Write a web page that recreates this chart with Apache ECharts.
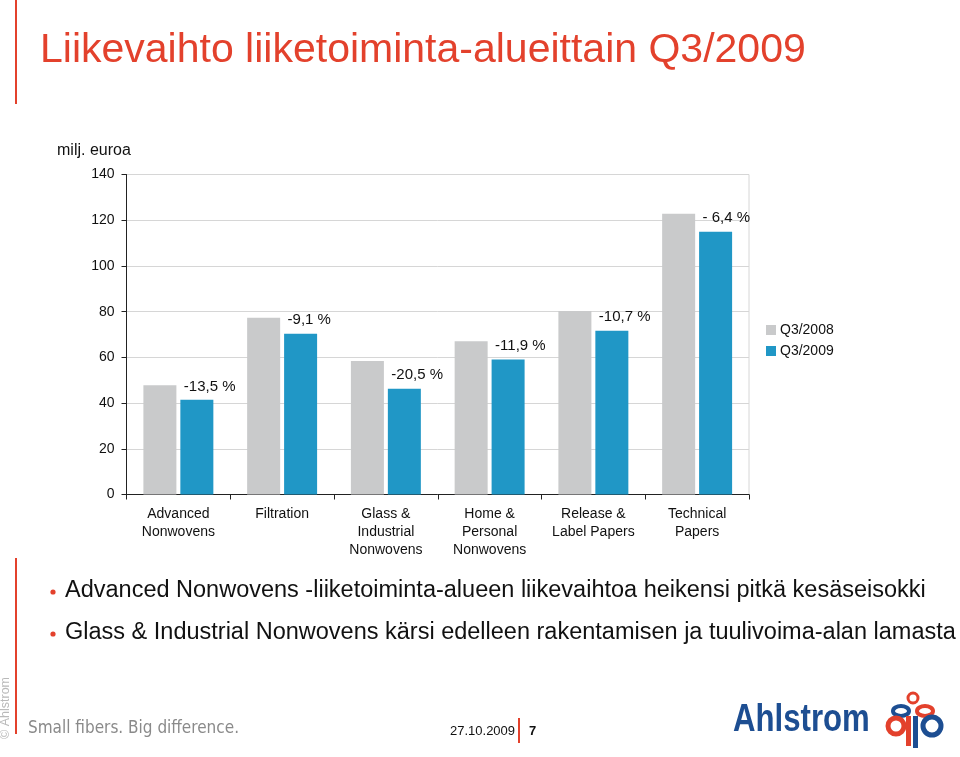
<!DOCTYPE html>
<html>
<head>
<meta charset="utf-8">
<script src="https://cdn.jsdelivr.net/npm/echarts@6/dist/echarts.min.js"></script>
<style>
html,body{margin:0;padding:0;background:#fff;}
#chart{width:960px;height:757px;}
</style>
</head>
<body>
<div id="chart"></div>
<script>
const categories = ['Advanced\nNonwovens', 'Filtration', 'Glass &\nIndustrial\nNonwovens', 'Home &\nPersonal\nNonwovens', 'Release &\nLabel Papers', 'Technical\nPapers'];
const q3_2008 = [47.8, 77.3, 58.4, 67.1, 80.3, 122.8];
const q3_2009 = [41.4, 70.3, 46.3, 59.1, 71.6, 115.0];
const changeLabels = ['-13,5 %', '-9,1 %', '-20,5 %', '-11,9 %', '-10,7 %', '- 6,4 %'];
const yTicks = [0, 20, 40, 60, 80, 100, 120, 140];
const seriesNames = ['Q3/2008', 'Q3/2009'];
const titleText = 'Liikevaihto liiketoiminta-alueittain Q3/2009';
const bullets = [
  'Advanced Nonwovens -liiketoiminta-alueen liikevaihtoa heikensi pitkä kesäseisokki',
  'Glass & Industrial Nonwovens kärsi edelleen rakentamisen ja tuulivoima-alan lamasta'
];

const RED = '#e3412c';
const GRAY = '#c9cacb';
const BLUE = '#2097c6';
const DARKBLUE = '#1d4e92';
const FONT = '"Liberation Sans", Arial, Helvetica, sans-serif';
const COND = '"DejaVu Sans Condensed", "Liberation Sans", sans-serif';

const chart = echarts.init(document.getElementById('chart'), null, {renderer: 'canvas'});

const graphics = [
  {type: 'rect', shape: {x: 15, y: 0, width: 2, height: 104}, style: {fill: RED}},
  {type: 'rect', shape: {x: 15, y: 558, width: 2, height: 176}, style: {fill: RED}},
  {type: 'text', x: 40, y: 51, style: {text: titleText, fill: RED, font: '41px ' + FONT, textVerticalAlign: 'middle'}},
  {type: 'text', x: 57, y: 151, style: {text: 'milj. euroa', fill: '#111', font: '16px ' + FONT, textVerticalAlign: 'middle'}},
  {type: 'text', x: 6, y: 739, rotation: Math.PI / 2, style: {text: '© Ahlstrom', fill: '#b9b9b9', font: '12.5px ' + FONT, textVerticalAlign: 'middle'}},
  {type: 'text', x: 28, y: 729, style: {text: 'Small fibers. Big difference.', fill: '#8a8a8a', font: '17px ' + COND, textVerticalAlign: 'middle'}},
  {type: 'text', x: 450, y: 731, style: {text: '27.10.2009', fill: '#111', font: '13px ' + FONT, textVerticalAlign: 'middle'}},
  {type: 'rect', shape: {x: 518, y: 718, width: 2, height: 25}, style: {fill: RED}},
  {type: 'text', x: 529, y: 731, style: {text: '7', fill: '#111', font: 'bold 13px ' + FONT, textVerticalAlign: 'middle'}},
  {type: 'text', x: 733, y: 721, scaleX: 0.82, style: {text: 'Ahlstrom', fill: DARKBLUE, font: 'bold 38px ' + FONT, textVerticalAlign: 'middle'}},
  // logo symbol
  {type: 'circle', shape: {cx: 913, cy: 698, r: 5}, style: {fill: 'none', stroke: RED, lineWidth: 3}},
  {type: 'ellipse', shape: {cx: 901, cy: 711, rx: 8, ry: 5}, style: {fill: 'none', stroke: DARKBLUE, lineWidth: 4}},
  {type: 'ellipse', shape: {cx: 925, cy: 711, rx: 8, ry: 5}, style: {fill: 'none', stroke: RED, lineWidth: 4}},
  {type: 'circle', shape: {cx: 896, cy: 726, r: 8}, style: {fill: 'none', stroke: RED, lineWidth: 5}},
  {type: 'circle', shape: {cx: 932, cy: 726, r: 9}, style: {fill: 'none', stroke: DARKBLUE, lineWidth: 5}},
  {type: 'rect', shape: {x: 906, y: 716, width: 5, height: 30}, style: {fill: RED}},
  {type: 'rect', shape: {x: 913, y: 716, width: 5, height: 32}, style: {fill: DARKBLUE}}
];
bullets.forEach(function (b, i) {
  const y = 591 + i * 42;
  graphics.push({type: 'circle', shape: {cx: 53, cy: y + 1, r: 2.6}, style: {fill: RED}});
  graphics.push({type: 'text', x: 65, y: y, style: {text: b, fill: '#111', font: '23.5px ' + FONT, textVerticalAlign: 'middle'}});
});

const option = {
  animation: false,
  backgroundColor: '#fff',
  textStyle: {fontFamily: FONT},
  grid: {left: 126.5, right: 211, top: 174.5, bottom: 262.5, show: true, borderColor: '#d6d6d6', borderWidth: 1, containLabel: false},
  legend: {
    orient: 'vertical', left: 761, top: 318, itemWidth: 10, itemHeight: 10, itemGap: 7,
    icon: 'rect', data: seriesNames,
    textStyle: {fontSize: 14, color: '#111', fontFamily: FONT, padding: [0, 0, 0, -1]}
  },
  xAxis: {
    type: 'category', data: categories,
    axisLine: {lineStyle: {color: '#222', width: 1}},
    axisTick: {show: true, length: 5, lineStyle: {color: '#222'}},
    axisLabel: {fontSize: 14, lineHeight: 18, color: '#111', margin: 11, interval: 0, fontFamily: FONT}
  },
  yAxis: {
    type: 'value', min: yTicks[0], max: yTicks[yTicks.length - 1], interval: 20,
    axisLine: {show: true, lineStyle: {color: '#222', width: 1}},
    axisTick: {show: true, length: 5, lineStyle: {color: '#222'}},
    axisLabel: {fontSize: 14, color: '#111', margin: 12, fontFamily: FONT},
    splitLine: {lineStyle: {color: '#d6d6d6', width: 1}}
  },
  series: [
    {name: seriesNames[0], type: 'bar', data: q3_2008, barWidth: 33, barGap: '12%', itemStyle: {color: GRAY}},
    {name: seriesNames[1], type: 'bar', data: q3_2009, barWidth: 33, itemStyle: {color: BLUE},
      label: {show: true, position: 'top', distance: 6, align: 'left', offset: [-13, 0],
        fontSize: 15, color: '#111', fontFamily: FONT,
        formatter: function (p) { return changeLabels[p.dataIndex]; }}}
  ],
  graphic: graphics
};
chart.setOption(option);
</script>
</body>
</html>
